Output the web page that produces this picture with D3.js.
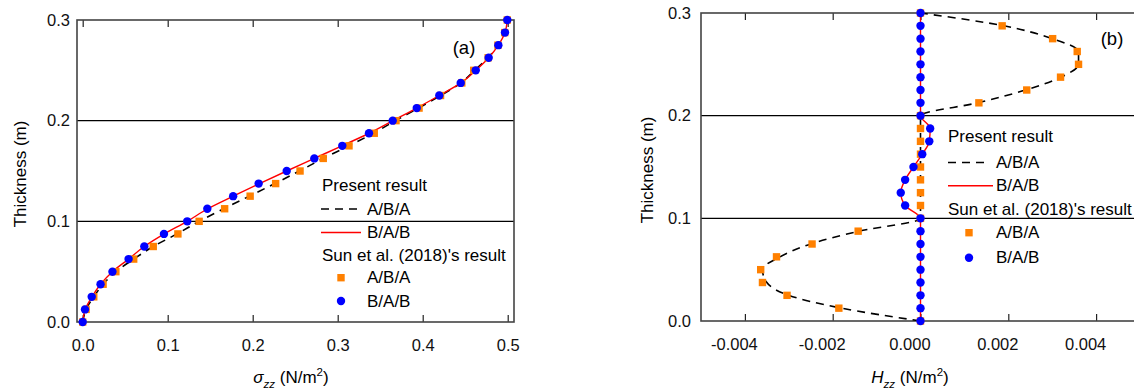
<!DOCTYPE html>
<html>
<head>
<meta charset="utf-8">
<script src="https://cdn.jsdelivr.net/npm/d3@7"></script>
<style>
  body { margin: 0; background: #fff; }
  svg { display: block; font-family: "Liberation Sans", Arial, sans-serif; }
</style>
</head>
<body>
<svg id="chart" width="1134" height="392"></svg>
<script>
// thickness levels (m), shared by every series
var thickness = [0, 0.0125, 0.025, 0.0375, 0.05, 0.0625, 0.075, 0.0875, 0.1, 0.1125, 0.125, 0.1375,
                 0.15, 0.1625, 0.175, 0.1875, 0.2, 0.2125, 0.225, 0.2375, 0.25, 0.2625, 0.275, 0.2875, 0.3];

// (a) sigma_zz
var sigmaPresentABA = [0, 0.004, 0.013, 0.024, 0.039, 0.060, 0.083, 0.111, 0.137, 0.166, 0.196, 0.226,
                       0.255, 0.283, 0.313, 0.342, 0.368, 0.395, 0.421, 0.445, 0.461, 0.477, 0.4885, 0.4965, 0.4995];
var sigmaPresentBAB = [0, 0.003, 0.011, 0.021, 0.035, 0.054, 0.0725, 0.096, 0.123, 0.147, 0.177, 0.208,
                       0.240, 0.2725, 0.305, 0.337, 0.365, 0.393, 0.4195, 0.445, 0.4625, 0.4776, 0.489, 0.4968, 0.4995];
var sigmaSunABA = [0, 0.004, 0.013, 0.024, 0.039, 0.060, 0.083, 0.112, 0.137, 0.167, 0.197, 0.227,
                   0.2557, 0.283, 0.3133, 0.343, 0.3686, 0.3957, 0.421, 0.446, 0.460, 0.477, 0.4885, 0.4965, 0.4995];
var sigmaSunBAB = [0, 0.0027, 0.0106, 0.021, 0.035, 0.054, 0.0725, 0.0956, 0.123, 0.1466, 0.177, 0.207,
                   0.240, 0.2725, 0.3054, 0.3368, 0.3647, 0.393, 0.4195, 0.4447, 0.4624, 0.4776, 0.489, 0.4968, 0.4995];

// (b) H_zz
var hzzPresentABA = [0, -0.0018, -0.0030, -0.0035, -0.0036, -0.0032, -0.0025, -0.0014, 0, 0, 0, 0,
                     0, 0, 0, 0, 0, 0.0013, 0.0024, 0.0032, 0.0036, 0.0036, 0.0030, 0.0019, 0];
var hzzPresentBAB = [0, 0, 0, 0, 0, 0, 0, 0, 0, -0.00035, -0.00045, -0.00035,
                     -0.00016, 0.00004, 0.0002, 0.00022, 0, 0, 0, 0, 0, 0, 0, 0, 0];
var hzzSunABA = [0, -0.00186, -0.00304, -0.0036, -0.00364, -0.00328, -0.00247, -0.00142, 0, 0, 0, 0,
                 0, 0, 0, 0, 0, 0.00133, 0.00242, 0.00319, 0.0036, 0.00357, 0.00301, 0.00186, 0];
var hzzSunBAB = [0, 0, 0, 0, 0, 0, 0, 0, 0, -0.00035, -0.00045, -0.00035,
                 -0.00016, 0.00004, 0.0002, 0.00022, 0, 0, 0, 0, 0, 0, 0, 0, 0];

var yTicks = [0, 0.1, 0.2, 0.3];
var sigmaTicks = [0, 0.1, 0.2, 0.3, 0.4, 0.5];
var hzzTicks = [-0.004, -0.002, 0, 0.002, 0.004];
var interfaces = [0.1, 0.2];

var legendRows = ["Present result", "A/B/A", "B/A/B", "Sun et al. (2018)'s result", "A/B/A", "B/A/B"];

var orange = "#ff8000", blue = "#0000ff", red = "#ff0000";
var svg = d3.select("#chart");

function zip(xs) {
    return thickness.map(function(t, i) { return {x: xs[i], y: t}; });
}

function drawPanel(p) {
    var g = svg.append("g");
    var x = d3.scaleLinear().domain(p.xDomain).range([p.left, p.right]);
    var y = d3.scaleLinear().domain([0, 0.3]).range([p.bottom, p.top]);

    var clipId = "clip" + p.name;
    svg.append("clipPath").attr("id", clipId).append("rect")
        .attr("x", p.left).attr("y", p.top - 6)
        .attr("width", p.right - p.left).attr("height", p.bottom - p.top + 12);

    // layer interfaces
    g.selectAll(".iface").data(interfaces).enter().append("line")
        .attr("x1", p.left).attr("x2", p.right)
        .attr("y1", function(d) { return y(d); }).attr("y2", function(d) { return y(d); })
        .attr("stroke", "#000").attr("stroke-width", 1.4);

    // ticks top and bottom, pointing inward
    var fmt = p.fmt;
    var bottom = g.append("g").attr("transform", "translate(0," + p.bottom + ")")
        .call(d3.axisBottom(x).tickValues(p.xTicks).tickSizeInner(-7).tickSizeOuter(0)
            .tickPadding(17.5).tickFormat(fmt));
    var top = g.append("g").attr("transform", "translate(0," + p.top + ")")
        .call(d3.axisTop(x).tickValues(p.xTicks).tickSizeInner(-7).tickSizeOuter(0).tickFormat(""));
    var left = g.append("g").attr("transform", "translate(" + p.left + ",0)")
        .call(d3.axisLeft(y).tickValues(yTicks).tickSize(0).tickPadding(p.yPad).tickFormat(d3.format(".1f")));
    [bottom, top, left].forEach(function(a) {
        a.select(".domain").remove();
        a.selectAll("line").attr("stroke", "#222").attr("stroke-width", 1.2);
        a.selectAll("text").attr("font-size", 16.5).attr("fill", "#111")
            .attr("font-family", "Liberation Sans, Arial, sans-serif");
    });
    bottom.selectAll("text").attr("dx", p.labelDx);

    // frame
    g.append("rect")
        .attr("x", p.left).attr("y", p.top)
        .attr("width", p.right - p.left).attr("height", p.bottom - p.top)
        .attr("fill", "none").attr("stroke", "#444").attr("stroke-width", 1.6);

    var plot = g.append("g").attr("clip-path", "url(#" + clipId + ")");
    var line = d3.line()
        .x(function(d) { return x(d.x); })
        .y(function(d) { return y(d.y); })
        .curve(d3.curveMonotoneY);

    plot.append("path").datum(zip(p.presentABA))
        .attr("d", line).attr("fill", "none")
        .attr("stroke", "#000").attr("stroke-width", 1.6).attr("stroke-dasharray", "8,6");
    plot.append("path").datum(zip(p.presentBAB))
        .attr("d", line).attr("fill", "none")
        .attr("stroke", red).attr("stroke-width", 1.4);

    plot.selectAll(".sq").data(zip(p.sunABA)).enter().append("rect")
        .attr("x", function(d) { return x(d.x) - 3.7; })
        .attr("y", function(d) { return y(d.y) - 3.7; })
        .attr("width", 7.4).attr("height", 7.4)
        .attr("fill", orange);
    plot.selectAll(".ci").data(zip(p.sunBAB)).enter().append("circle")
        .attr("cx", function(d) { return x(d.x); })
        .attr("cy", function(d) { return y(d.y); })
        .attr("r", 4.2).attr("fill", blue);

    // panel tag
    g.append("text").attr("x", p.tag[0]).attr("y", p.tag[1])
        .attr("text-anchor", "middle").attr("dominant-baseline", "central")
        .attr("font-size", 18.5).text(p.tagText);

    // axis titles
    g.append("text")
        .attr("transform", "translate(" + p.yTitleX + "," + ((p.top + p.bottom) / 2 + 3) + ") rotate(-90)")
        .attr("text-anchor", "middle").attr("dominant-baseline", "central")
        .attr("font-size", 17).text("Thickness (m)");

    var xt = g.append("text").attr("x", p.xTitleX).attr("y", 383)
        .attr("text-anchor", "middle").attr("font-size", 17);
    xt.append("tspan").attr("font-style", "italic").text(p.xSymbol);
    xt.append("tspan").attr("font-style", "italic").attr("font-size", 11.5).attr("dy", 5).text("zz");
    xt.append("tspan").attr("dy", -5).text(" (N/m");
    xt.append("tspan").attr("font-size", 11.5).attr("dy", -7).text("2");
    xt.append("tspan").attr("dy", 7).text(")");

    // legend
    var L = p.legend;
    var leg = g.append("g");
    leg.selectAll("text").data(legendRows).enter().append("text")
        .attr("x", function(d, i) { return (i === 0 || i === 3) ? L.textX0 : L.textX1; })
        .attr("y", function(d, i) { return L.rows[i]; })
        .attr("dominant-baseline", "central").attr("font-size", 17)
        .text(function(d) { return d; });
    leg.append("line").attr("x1", L.lineX0).attr("x2", L.lineX1)
        .attr("y1", L.rows[1]).attr("y2", L.rows[1])
        .attr("stroke", "#000").attr("stroke-width", 1.6).attr("stroke-dasharray", "8,6");
    leg.append("line").attr("x1", L.lineX0).attr("x2", L.lineX1 + 3)
        .attr("y1", L.rows[2]).attr("y2", L.rows[2])
        .attr("stroke", red).attr("stroke-width", 1.4);
    leg.append("rect").attr("x", L.markX - 3.7).attr("y", L.rows[4] - 3.7)
        .attr("width", 7.4).attr("height", 7.4).attr("fill", orange);
    leg.append("circle").attr("cx", L.markX).attr("cy", L.rows[5]).attr("r", 4.2).attr("fill", blue);
}

drawPanel({
    name: "a", left: 77, right: 514, top: 20, bottom: 322,
    xDomain: [-0.0067, 0.5074], xTicks: sigmaTicks, fmt: d3.format(".1f"), labelDx: 0, yPad: 7,
    presentABA: sigmaPresentABA, presentBAB: sigmaPresentBAB, sunABA: sigmaSunABA, sunBAB: sigmaSunBAB,
    tag: [464, 47], tagText: "(a)", yTitleX: 20, xTitleX: 291, xSymbol: "σ",
    legend: {textX0: 322, textX1: 367, lineX0: 321, lineX1: 358, markX: 341,
             rows: [185, 209, 232.5, 255, 277.7, 301]}
});

drawPanel({
    name: "b", left: 701, right: 1140, top: 13, bottom: 321,
    xDomain: [-0.005, 0.005], xTicks: hzzTicks,
    fmt: function(d) { return d3.format(".3f")(d).replace("−", "-"); }, labelDx: -11, yPad: 10,
    presentABA: hzzPresentABA, presentBAB: hzzPresentBAB, sunABA: hzzSunABA, sunBAB: hzzSunBAB,
    tag: [1112, 38], tagText: "(b)", yTitleX: 647, xTitleX: 910, xSymbol: "H",
    legend: {textX0: 948, textX1: 996, lineX0: 948, lineX1: 990, markX: 969,
             rows: [136.7, 162.5, 185.7, 209, 232.7, 257.7]}
});
</script>
</body>
</html>
